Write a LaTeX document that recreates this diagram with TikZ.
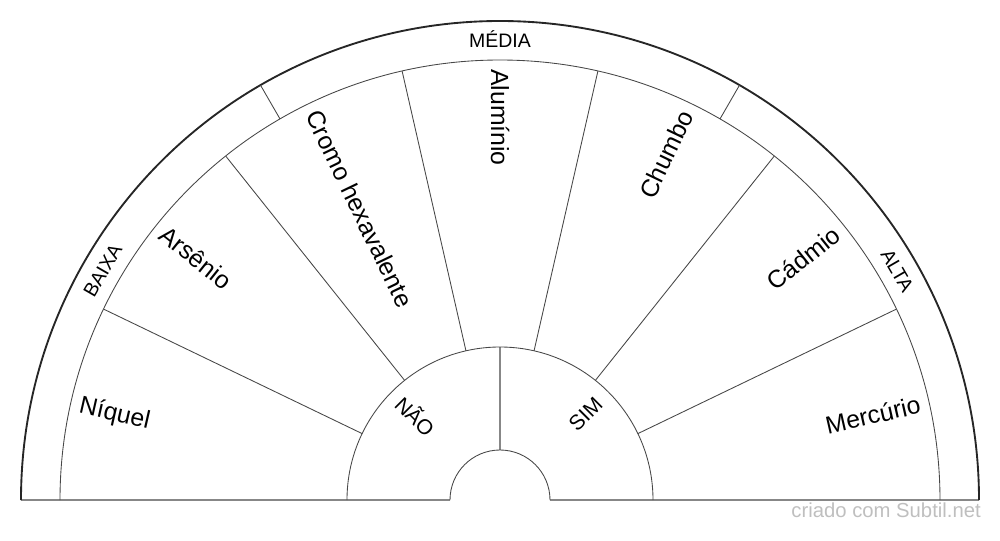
\documentclass[tikz,border=0pt]{standalone}
\usepackage{fontspec}
\setmainfont{Liberation Sans}
\begin{document}
\begin{tikzpicture}[x=0.75pt,y=0.75pt,
  outerline/.style={draw=black!85, line width=1.4pt},
  thinline/.style={draw=black!72, line width=0.65pt},
  grayline/.style={draw=black!47, line width=1.1pt},
  lab/.style={font=\fontsize{18.6}{21}\selectfont, inner sep=0pt, text height=13.3pt, text depth=0pt},
  bandlab/.style={font=\fontsize{14.6}{17}\selectfont, inner sep=0pt, anchor=base},
  midlab/.style={font=\fontsize{15.8}{18}\selectfont, inner sep=0pt},
  credit/.style={font=\fontsize{15.2}{18}\selectfont, inner sep=0pt, text=black!25}]
\useasboundingbox (0,0) rectangle (1000,540);
\begin{scope}[shift={(500,40)}]
  % baseline and centre line
  \draw[grayline] (180:479) -- (180:50);
  \draw[grayline] (0:50) -- (0:479);
  \draw[grayline] (90:50) -- (90:153);
  % arcs
  \draw[outerline] (180:479) arc[start angle=180, end angle=0, radius=479];
  \draw[thinline] (180:440) arc[start angle=180, end angle=0, radius=440];
  \draw[thinline] (180:153) arc[start angle=180, end angle=0, radius=153];
  \draw[thinline] (180:50) arc[start angle=180, end angle=0, radius=50];
  % band dividers
  \draw[thinline] (120:440) -- (120:479);
  \draw[thinline] (60:440) -- (60:479);
  % sector dividers
  \foreach \k in {1,...,6}
    \draw[thinline] ({\k*180/7}:153) -- ({\k*180/7}:440);
  % main labels
  \node[lab, anchor=west, rotate=-12.857] (niquel) at (167.143:431) {Níquel};
  \node[lab, anchor=west, rotate=-38.571] (arsenio) at (141.429:431) {Arsênio};
  \node[lab, anchor=west, rotate=-64.286] (cromo) at (115.714:431) {Cromo hexavalente};
  \node[lab, anchor=west, rotate=-90] (aluminio) at (90:431) {Alumínio};
  \node[lab, anchor=east, rotate=64.286] (chumbo) at (64.286:431) {Chumbo};
  \node[lab, anchor=east, rotate=38.571] (cadmio) at (38.571:431) {Cádmio};
  \node[lab, anchor=east, rotate=12.857] (mercurio) at (12.857:431) {Mercúrio};
  % band labels
  \node[bandlab] (media) at (90:452) {MÉDIA};
  \node[bandlab, rotate=60] (baixa) at (150:452) {BAIXA};
  \node[bandlab, rotate=-60] (alta) at (30:452) {ALTA};
  % inner labels
  \node[midlab, rotate=-45] (nao) at (135:119) {NÃO};
  \node[midlab, rotate=45] (sim) at (45:121) {SIM};
\end{scope}
\node[credit, anchor=base east] (creditnode) at (981,23) {criado com Subtil.net};
\end{tikzpicture}
\end{document}
